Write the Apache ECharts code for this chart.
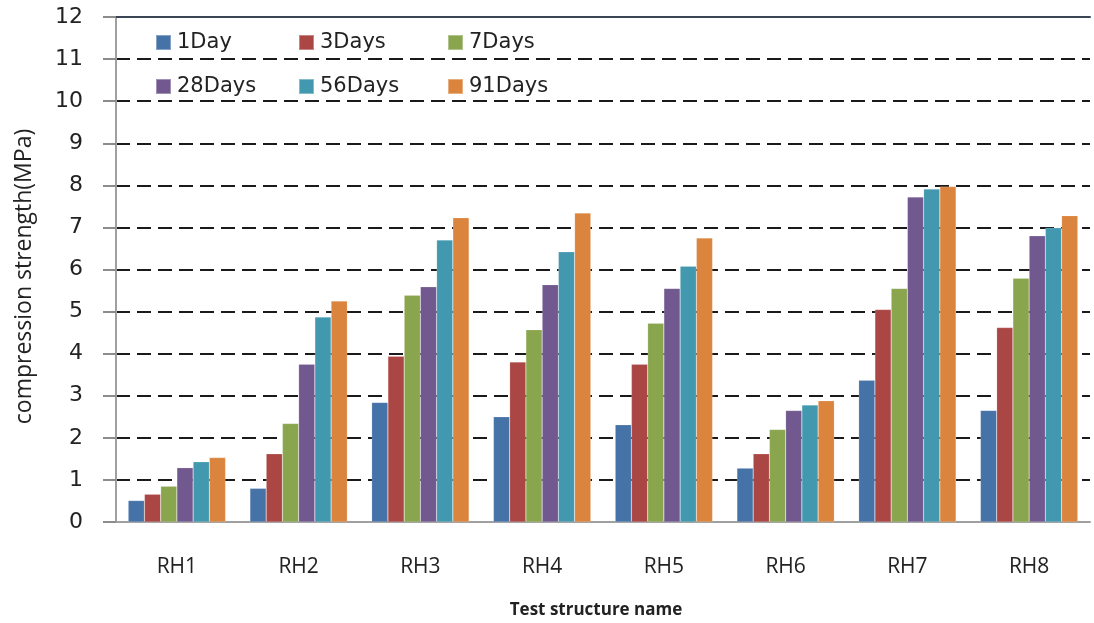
<!DOCTYPE html>
<html>
<head>
<meta charset="utf-8">
<script src="https://cdn.jsdelivr.net/npm/echarts@6/dist/echarts.min.js"></script>
<style>
  html, body { margin: 0; padding: 0; background: #fff; }
  #chart { width: 1094px; height: 623px; }
</style>
</head>
<body>
<div id="chart"></div>
<script>
// Compression strength of each test structure at six curing ages
const categories = ['RH1', 'RH2', 'RH3', 'RH4', 'RH5', 'RH6', 'RH7', 'RH8'];
const seriesNames = ['1Day', '3Days', '7Days', '28Days', '56Days', '91Days'];
const day1  = [0.51, 0.80, 2.84, 2.50, 2.31, 1.28, 3.37, 2.65];
const day3  = [0.66, 1.62, 3.94, 3.80, 3.75, 1.62, 5.05, 4.62];
const day7  = [0.85, 2.34, 5.39, 4.57, 4.72, 2.20, 5.55, 5.79];
const day28 = [1.29, 3.75, 5.59, 5.64, 5.55, 2.65, 7.72, 6.80];
const day56 = [1.43, 4.87, 6.70, 6.42, 6.08, 2.78, 7.91, 6.99];
const day91 = [1.53, 5.25, 7.23, 7.34, 6.75, 2.88, 7.97, 7.28];
const colors = ['#4572A7', '#AA4643', '#89A54E', '#71588F', '#4198AF', '#DB843D'];
const yTicks = [0, 1, 2, 3, 4, 5, 6, 7, 8, 9, 10, 11, 12];

const values = [day1, day3, day7, day28, day56, day91];
const numFont = '"DejaVu Sans", Verdana, sans-serif';
const textFont = '"Open Sans", "Noto Sans", sans-serif';

// one legend block per entry, laid out in a 3-column, 2-row arrangement
const legendCols = [150, 293, 442];
const legendRows = [27, 71];
const legends = seriesNames.map((name, i) => ({
  data: [name],
  left: legendCols[i % 3],
  top: legendRows[Math.floor(i / 3)],
  orient: 'horizontal',
  itemWidth: 15,
  itemHeight: 15,
  icon: 'rect',
  selectedMode: false,
  textStyle: { fontFamily: numFont, fontSize: 21, color: '#222', padding: [0, 0, 0, 1] }
}));

const series = seriesNames.map((name, i) => ({
  name: name,
  type: 'bar',
  data: values[i],
  barGap: '0%',
  barCategoryGap: '20%',
  itemStyle: { color: colors[i], borderColor: 'rgba(255,255,255,0.35)', borderWidth: 0.5 },
  emphasis: { disabled: true }
}));

const chart = echarts.init(document.getElementById('chart'), null, { renderer: 'canvas' });
chart.setOption({
  animation: false,
  color: colors,
  legend: legends,
  grid: { left: 116, right: 4, top: 17, bottom: 101, containLabel: false, outerBoundsMode: 'none' },
  xAxis: [
    {
      type: 'category',
      data: categories,
      position: 'bottom',
      axisLine: { show: true, lineStyle: { color: '#a0a0a0', width: 2 } },
      axisTick: { show: false },
      axisLabel: { margin: 35, fontFamily: textFont, fontSize: 21, color: '#222' },
      name: 'Test structure name',
      nameLocation: 'middle',
      nameGap: 80,
      nameTextStyle: { fontFamily: textFont, fontSize: 17, fontWeight: 'bold', color: '#222', padding: [0, 14, 0, 0] }
    },
    {
      type: 'category',
      data: categories,
      position: 'top',
      axisLine: { show: true, lineStyle: { color: '#3b4655', width: 2 } },
      axisTick: { show: false },
      axisLabel: { show: false }
    }
  ],
  yAxis: {
    type: 'value',
    min: yTicks[0],
    max: yTicks[yTicks.length - 1],
    interval: 1,
    axisLine: { show: true, lineStyle: { color: '#a0a0a0', width: 2 } },
    axisTick: { show: true, length: 13, lineStyle: { color: '#8c8c8c', width: 2 } },
    axisLabel: { margin: 33, fontFamily: numFont, fontSize: 22, color: '#222' },
    splitLine: { show: true, lineStyle: { color: '#1a1a1a', width: 2, type: [14, 7] } },
    name: 'compression strength(MPa)',
    nameLocation: 'middle',
    nameGap: 80,
    nameRotate: 90,
    nameTextStyle: { fontFamily: textFont, fontSize: 23, color: '#222', padding: [0, 14, 0, 0] }
  },
  series: series
});
</script>
</body>
</html>
